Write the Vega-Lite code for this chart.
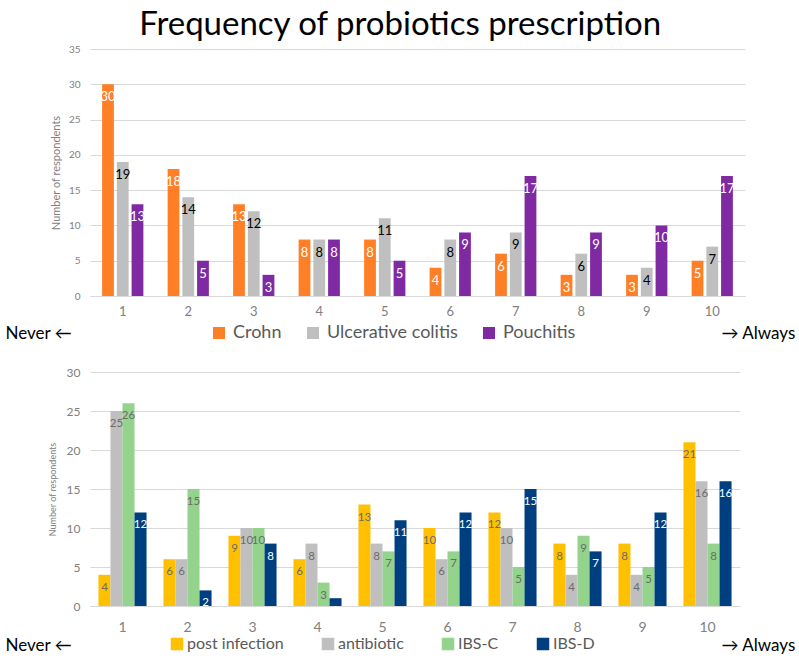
{
  "$schema": "https://vega.github.io/schema/vega-lite/v6.json",
  "background": "white",
  "padding": {"left": 5, "top": 9, "right": 4, "bottom": 4},
  "title": {"text": "Frequency of probiotics prescription", "fontSize": 33, "font": "Lato", "fontWeight": "normal", "color": "black", "anchor": "middle", "offset": 2},
  "config": {
    "font": "Lato",
    "view": {"stroke": null},
    "axis": {"gridColor": "#d9d9d9", "domainColor": "#d9d9d9", "ticks": false, "labelFont": "Lato", "titleFont": "Lato", "titleFontWeight": "normal", "labelColor": "#808080", "titleColor": "#808080"},
    "legend": {"labelFont": "Lato", "symbolType": "square", "symbolStrokeWidth": 0, "labelColor": "#595959"}
  },
  "datasets": {
    "ibd": [
      {"level": 1, "series": "Crohn", "count": 30}, {"level": 2, "series": "Crohn", "count": 18}, {"level": 3, "series": "Crohn", "count": 13}, {"level": 4, "series": "Crohn", "count": 8}, {"level": 5, "series": "Crohn", "count": 8}, {"level": 6, "series": "Crohn", "count": 4}, {"level": 7, "series": "Crohn", "count": 6}, {"level": 8, "series": "Crohn", "count": 3}, {"level": 9, "series": "Crohn", "count": 3}, {"level": 10, "series": "Crohn", "count": 5},
      {"level": 1, "series": "Ulcerative colitis", "count": 19}, {"level": 2, "series": "Ulcerative colitis", "count": 14}, {"level": 3, "series": "Ulcerative colitis", "count": 12}, {"level": 4, "series": "Ulcerative colitis", "count": 8}, {"level": 5, "series": "Ulcerative colitis", "count": 11}, {"level": 6, "series": "Ulcerative colitis", "count": 8}, {"level": 7, "series": "Ulcerative colitis", "count": 9}, {"level": 8, "series": "Ulcerative colitis", "count": 6}, {"level": 9, "series": "Ulcerative colitis", "count": 4}, {"level": 10, "series": "Ulcerative colitis", "count": 7},
      {"level": 1, "series": "Pouchitis", "count": 13}, {"level": 2, "series": "Pouchitis", "count": 5}, {"level": 3, "series": "Pouchitis", "count": 3}, {"level": 4, "series": "Pouchitis", "count": 8}, {"level": 5, "series": "Pouchitis", "count": 5}, {"level": 6, "series": "Pouchitis", "count": 9}, {"level": 7, "series": "Pouchitis", "count": 17}, {"level": 8, "series": "Pouchitis", "count": 9}, {"level": 9, "series": "Pouchitis", "count": 10}, {"level": 10, "series": "Pouchitis", "count": 17}
    ],
    "ibs": [
      {"level": 1, "series": "post infection", "count": 4}, {"level": 2, "series": "post infection", "count": 6}, {"level": 3, "series": "post infection", "count": 9}, {"level": 4, "series": "post infection", "count": 6}, {"level": 5, "series": "post infection", "count": 13}, {"level": 6, "series": "post infection", "count": 10}, {"level": 7, "series": "post infection", "count": 12}, {"level": 8, "series": "post infection", "count": 8}, {"level": 9, "series": "post infection", "count": 8}, {"level": 10, "series": "post infection", "count": 21},
      {"level": 1, "series": "antibiotic", "count": 25}, {"level": 2, "series": "antibiotic", "count": 6}, {"level": 3, "series": "antibiotic", "count": 10}, {"level": 4, "series": "antibiotic", "count": 8}, {"level": 5, "series": "antibiotic", "count": 8}, {"level": 6, "series": "antibiotic", "count": 6}, {"level": 7, "series": "antibiotic", "count": 10}, {"level": 8, "series": "antibiotic", "count": 4}, {"level": 9, "series": "antibiotic", "count": 4}, {"level": 10, "series": "antibiotic", "count": 16},
      {"level": 1, "series": "IBS-C", "count": 26}, {"level": 2, "series": "IBS-C", "count": 15}, {"level": 3, "series": "IBS-C", "count": 10}, {"level": 4, "series": "IBS-C", "count": 3}, {"level": 5, "series": "IBS-C", "count": 7}, {"level": 6, "series": "IBS-C", "count": 7}, {"level": 7, "series": "IBS-C", "count": 5}, {"level": 8, "series": "IBS-C", "count": 9}, {"level": 9, "series": "IBS-C", "count": 5}, {"level": 10, "series": "IBS-C", "count": 8},
      {"level": 1, "series": "IBS-D", "count": 12}, {"level": 2, "series": "IBS-D", "count": 2}, {"level": 3, "series": "IBS-D", "count": 8}, {"level": 4, "series": "IBS-D", "count": 1}, {"level": 5, "series": "IBS-D", "count": 11}, {"level": 6, "series": "IBS-D", "count": 12}, {"level": 7, "series": "IBS-D", "count": 15}, {"level": 8, "series": "IBS-D", "count": 7}, {"level": 9, "series": "IBS-D", "count": 12}, {"level": 10, "series": "IBS-D", "count": 16}
    ]
  },
  "spacing": 24,
  "resolve": {"scale": {"color": "independent", "xOffset": "independent", "x": "independent", "y": "independent"}, "legend": {"color": "independent"}},
  "vconcat": [
    {
      "width": 655,
      "height": 247,
      "data": {"name": "ibd"},
      "encoding": {
        "x": {"field": "level", "type": "ordinal", "scale": {"paddingInner": 0.37, "paddingOuter": 0.185},
          "axis": {"labelAngle": 0, "labelFontSize": 13, "labelPadding": 9, "domain": true, "title": "Never ←", "titleX": -85, "titleY": 37, "titleAlign": "left", "titleBaseline": "middle", "titleFontSize": 17, "titleColor": "black"}},
        "xOffset": {"field": "series", "type": "nominal", "sort": ["Crohn", "Ulcerative colitis", "Pouchitis"], "scale": {"domain": ["Crohn", "Ulcerative colitis", "Pouchitis"], "paddingInner": 0.2, "paddingOuter": 0}},
        "y": {"field": "count", "type": "quantitative", "scale": {"domain": [0, 35]},
          "axis": {"values": [0, 5, 10, 15, 20, 25, 30, 35], "domain": false, "labelFontSize": 10, "labelPadding": 10, "title": "Number of respondents", "titleFontSize": 11, "titlePadding": 7}}
      },
      "layer": [
        {
          "mark": {"type": "bar"},
          "encoding": {
            "color": {"field": "series", "type": "nominal", "sort": ["Crohn", "Ulcerative colitis", "Pouchitis"],
              "scale": {"domain": ["Crohn", "Ulcerative colitis", "Pouchitis"], "range": ["#ff7f27", "#bfbfbf", "#7f2aa3"]},
              "legend": {"title": null, "orient": "none", "direction": "horizontal", "legendX": 120, "legendY": 275, "labelFontSize": 18, "symbolSize": 144, "labelOffset": 5, "columnPadding": 22}}
          }
        },
        {
          "mark": {"type": "text", "dy": 13, "fontSize": 13},
          "encoding": {
            "text": {"field": "count", "type": "quantitative"},
            "color": {"condition": {"test": "datum.series === 'Ulcerative colitis'", "value": "black"}, "value": "white"},
            "y": {"field": "count", "type": "quantitative",
              "axis": {"orient": "right", "labels": false, "grid": false, "domain": false, "ticks": false, "title": "→ Always", "titleAngle": 0, "titleX": -24, "titleY": 284, "titleAlign": "left", "titleBaseline": "middle", "titleFontSize": 17, "titleColor": "black"}}
          }
        }
      ],
      "resolve": {"axis": {"y": "independent"}}
    },
    {
      "width": 650,
      "height": 234,
      "data": {"name": "ibs"},
      "encoding": {
        "x": {"field": "level", "type": "ordinal", "scale": {"paddingInner": 0.26, "paddingOuter": 0.13},
          "axis": {"labelAngle": 0, "labelFontSize": 14, "labelPadding": 14, "domain": true, "title": "Never ←", "titleX": -85, "titleY": 39, "titleAlign": "left", "titleBaseline": "middle", "titleFontSize": 17, "titleColor": "black"}},
        "xOffset": {"field": "series", "type": "nominal", "sort": ["post infection", "antibiotic", "IBS-C", "IBS-D"], "scale": {"domain": ["post infection", "antibiotic", "IBS-C", "IBS-D"], "paddingInner": 0, "paddingOuter": 0}},
        "y": {"field": "count", "type": "quantitative", "scale": {"domain": [0, 30]},
          "axis": {"values": [0, 5, 10, 15, 20, 25, 30], "domain": false, "labelFontSize": 12, "labelPadding": 10, "title": "Number of respondents", "titleFontSize": 9, "titlePadding": 9}}
      },
      "layer": [
        {
          "mark": {"type": "bar"},
          "encoding": {
            "color": {"field": "series", "type": "nominal", "sort": ["post infection", "antibiotic", "IBS-C", "IBS-D"],
              "scale": {"domain": ["post infection", "antibiotic", "IBS-C", "IBS-D"], "range": ["#ffc000", "#bfbfbf", "#93d38c", "#003f7f"]},
              "legend": {"title": null, "orient": "none", "direction": "horizontal", "legendX": 79, "legendY": 264, "labelFontSize": 16, "symbolSize": 156, "labelOffset": 2, "columnPadding": 36}}
          }
        },
        {
          "mark": {"type": "text", "dy": 13, "fontSize": 11.5},
          "encoding": {
            "text": {"field": "count", "type": "quantitative"},
            "color": {"condition": {"test": "datum.series === 'IBS-D'", "value": "white"}, "value": "#6b6b6b"},
            "y": {"field": "count", "type": "quantitative",
              "axis": {"orient": "right", "labels": false, "grid": false, "domain": false, "ticks": false, "title": "→ Always", "titleAngle": 0, "titleX": -19, "titleY": 273, "titleAlign": "left", "titleBaseline": "middle", "titleFontSize": 17, "titleColor": "black"}}
          }
        }
      ],
      "resolve": {"axis": {"y": "independent"}}
    }
  ]
}
